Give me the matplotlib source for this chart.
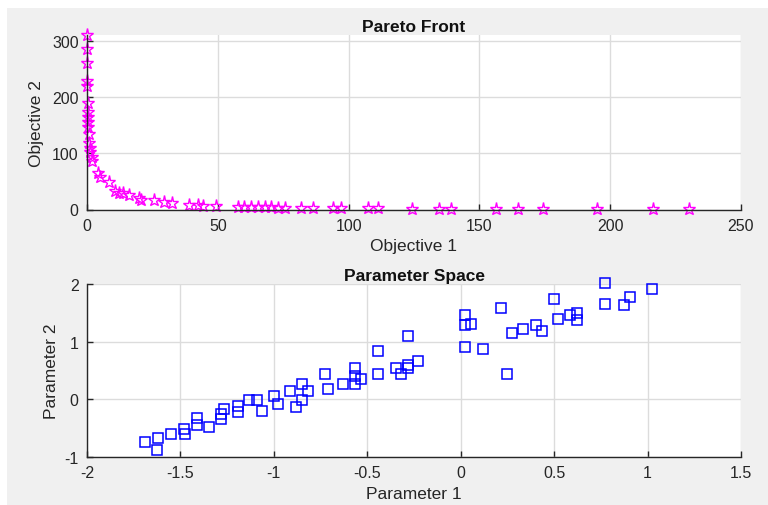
import matplotlib.pyplot as plt
from matplotlib.patches import Rectangle

# Pareto front (objective space)
obj1 = [0, 0, 0, 0.1, 0.1, 0.2, 0.2, 0.3, 0.3, 0.4, 0.8, 0.8, 1.0, 1.3, 1.8, 2.0,
        4.2, 5.1, 8.4, 10.6, 12.2, 13.7, 16.0, 20.0, 20.7, 25.8, 29.6, 32.6,
        39.0, 42.4, 44.4, 49.5, 57.7, 60.2, 62.8, 65.3, 67.9, 70.4, 73.0, 75.5,
        81.8, 86.3, 93.9, 97.1, 107.3, 111.1, 124.2, 134.6, 139.1, 156.3,
        164.9, 174.3, 194.8, 216.4, 230.3]
obj2 = [310, 285, 261, 229, 220, 190, 173, 164, 155, 146, 134, 119, 110, 102, 93, 87,
        65, 57, 49, 33, 30, 29, 26, 20, 17, 16, 13, 12,
        8, 8, 7, 6, 5, 5, 5, 4, 4, 4, 3, 3,
        3, 3, 2, 2, 2, 2, 1.5, 1.5, 1.5, 1,
        1, 1, 0.8, 0.6, 0.5]

# Parameter space
par1 = [-1.691, -1.621, -1.628, -1.548, -1.482, -1.475, -1.411, -1.411, -1.346,
        -1.282, -1.282, -1.266, -1.191, -1.191, -1.133, -1.092, -1.064, -0.998,
        -0.977, -0.911, -0.848, -0.817, -0.848, -0.879, -0.727, -0.711, -0.631,
        -0.566, -0.566, -0.534, -0.566, -0.445, -0.445, -0.349, -0.317, -0.284,
        -0.284, -0.284, -0.228,
        0.023, 0.023, 0.057, 0.023, 0.119, 0.217, 0.249, 0.272, 0.336, 0.402,
        0.434, 0.498, 0.523, 0.587, 0.621, 0.621, 0.774, 0.774, 0.872, 0.904,
        1.023]
par2 = [-0.733, -0.664, -0.883, -0.600, -0.519, -0.600, -0.323, -0.450, -0.473,
        -0.254, -0.335, -0.167, -0.115, -0.225, -0.017, -0.017, -0.196, 0.063,
        -0.081, 0.150, 0.260, 0.150, -0.017, -0.127, 0.433, 0.179, 0.265,
        0.537, 0.404, 0.352, 0.265, 0.837, 0.433, 0.548, 0.433, 1.100,
        0.600, 0.535, 0.667,
        1.454, 1.293, 1.310, 0.902, 0.879, 1.586, 0.431, 1.155, 1.224, 1.293,
        1.184, 1.741, 1.397, 1.466, 1.500, 1.379, 2.017, 1.655, 1.632, 1.776,
        1.914]

plt.rcParams['font.family'] = ['Liberation Sans', 'DejaVu Sans']
plt.rcParams['font.size'] = 11
axis_col = '#262626'
bg = '#f0f0f0'

fig = plt.figure(figsize=(7.68, 5.06), dpi=100, facecolor=bg)
fig.add_artist(Rectangle((0, 0), 7 / 768, 1, transform=fig.transFigure,
                         facecolor='white', edgecolor='none', zorder=-1))
fig.add_artist(Rectangle((0, 1 - 9 / 506), 1, 9 / 506, transform=fig.transFigure,
                         facecolor='white', edgecolor='none', zorder=-1))

ax1 = fig.add_axes([87 / 768, 1 - 210.5 / 506, 654 / 768, 174.5 / 506])
ax2 = fig.add_axes([87 / 768, 1 - 458 / 506, 654 / 768, 173 / 506])


def style(ax):
    ax.set_facecolor('white')
    for s in ['top', 'right']:
        ax.spines[s].set_visible(False)
    for s in ['left', 'bottom']:
        ax.spines[s].set_color(axis_col)
        ax.spines[s].set_linewidth(1.0)
    ax.tick_params(direction='in', length=4, width=1.0, color=axis_col,
                   labelcolor=axis_col, labelsize=11.5)
    ax.tick_params(axis='x', pad=6)
    ax.tick_params(axis='y', pad=6)
    ax.grid(True, color='#dcdcdc', linewidth=1.0)
    ax.set_axisbelow(True)


ax1.plot(obj1, obj2, linestyle='none', marker='*', markersize=9.5,
         markerfacecolor='none', markeredgecolor='#ff00ff', markeredgewidth=1.0,
         clip_on=False)
ax1.set_xlim(0, 250)
ax1.set_ylim(0, 310)
ax1.set_xticks([0, 50, 100, 150, 200, 250])
ax1.set_yticks([0, 100, 200, 300])
ax1.set_xlabel('Objective 1', color=axis_col, fontsize=12.5, labelpad=4)
ax1.set_ylabel('Objective 2', color=axis_col, fontsize=12.5, labelpad=6)
ax1.set_title('Pareto Front', fontweight='bold', fontsize=12.5, pad=3, color='#111111')
style(ax1)

ax2.plot(par1, par2, linestyle='none', marker='s', markersize=7,
         markerfacecolor='none', markeredgecolor='#0000ff', markeredgewidth=1.1,
         clip_on=False)
ax2.set_xlim(-2, 1.5)
ax2.set_ylim(-1, 2)
ax2.set_xticks([-2, -1.5, -1, -0.5, 0, 0.5, 1, 1.5])
ax2.set_xticklabels(['-2', '-1.5', '-1', '-0.5', '0', '0.5', '1', '1.5'])
ax2.set_yticks([-1, 0, 1, 2])
ax2.set_yticklabels(['-1', '0', '1', '2'])
ax2.set_xlabel('Parameter 1', color=axis_col, fontsize=12.5, labelpad=4)
ax2.set_ylabel('Parameter 2', color=axis_col, fontsize=12.5, labelpad=4)
ax2.set_title('Parameter Space', fontweight='bold', fontsize=12.5, pad=3, color='#111111')
style(ax2)

fig.savefig('out.png', dpi=100, facecolor=bg)
